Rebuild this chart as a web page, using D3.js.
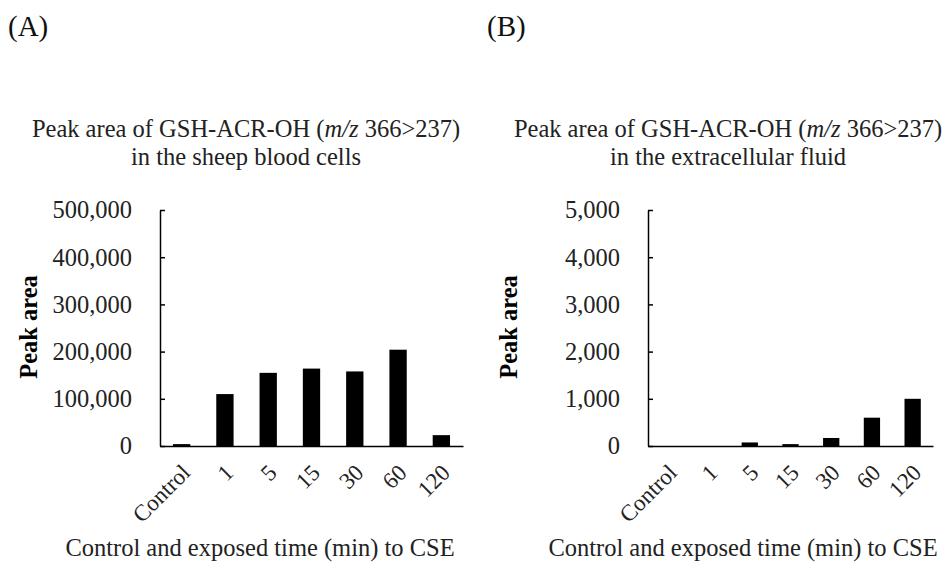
<!DOCTYPE html>
<html>
<head>
<meta charset="utf-8">
<script src="https://cdn.jsdelivr.net/npm/d3@7"></script>
<style>
  html, body { margin: 0; padding: 0; background: #fff; }
  svg { display: block; font-family: "Liberation Serif", "Times New Roman", serif; }
</style>
</head>
<body>
<svg id="chart" width="947" height="577"></svg>
<script>
// ---- data ----
const categories = ["Control", "1", "5", "15", "30", "60", "120"];
const valuesA = [4000, 110000, 155000, 164000, 158000, 204000, 23000];
const valuesB = [0, 0, 75, 40, 170, 600, 1000];
const ticksA = [0, 100000, 200000, 300000, 400000, 500000];
const ticksB = [0, 1000, 2000, 3000, 4000, 5000];
const panelLabels = ["(A)", "(B)"];
const titlesA = ["in the sheep blood cells"];
const titlesB = ["in the extracellular fluid"];
const yAxisTitle = "Peak area";
const xAxisTitle = "Control and exposed time (min) to CSE";

const svg = d3.select("#chart");
const fmt = d3.format(",");

const panels = [
  { label: panelLabels[0], values: valuesA, ticks: ticksA, max: 500000, sub: titlesA[0],
    x0: 160, x1: 463, labelX: 8, ytitleX: 37, titleCx: 246, xtitleCx: 260 },
  { label: panelLabels[1], values: valuesB, ticks: ticksB, max: 5000, sub: titlesB[0],
    x0: 648, x1: 933, labelX: 487, ytitleX: 517, titleCx: 728, xtitleCx: 743 }
];

const yTop = 210, yBot = 446;

panels.forEach(p => {
  const x = d3.scaleBand().domain(categories).range([p.x0, p.x1]).paddingInner(0.6).paddingOuter(0.3);
  const y = d3.scaleLinear().domain([0, p.max]).range([yBot, yTop]);

  // panel label
  svg.append("text").attr("x", p.labelX).attr("y", 36)
    .attr("font-size", 29).attr("fill", "#111").text(p.label);

  // title
  const t = svg.append("text").attr("x", p.titleCx).attr("y", 137)
    .attr("text-anchor", "middle").attr("font-size", 24.5).attr("fill", "#222");
  t.append("tspan").text("Peak area of GSH-ACR-OH (");
  t.append("tspan").attr("font-style", "italic").text("m/z");
  t.append("tspan").text(" 366>237)");
  svg.append("text").attr("x", p.titleCx).attr("y", 165)
    .attr("text-anchor", "middle").attr("font-size", 24.5).attr("fill", "#222").text(p.sub);

  // bars
  svg.append("g").selectAll("rect").data(p.values).join("rect")
    .attr("x", (d, i) => x(categories[i]))
    .attr("width", x.bandwidth())
    .attr("y", d => y(d))
    .attr("height", d => yBot - y(d))
    .attr("fill", "#000");

  // y axis
  const ya = svg.append("g").attr("transform", `translate(${p.x0},0)`)
    .call(d3.axisLeft(y).tickValues(p.ticks).tickFormat(fmt).tickSizeInner(-5).tickSizeOuter(0).tickPadding(28));
  ya.select(".domain").attr("stroke", "#000").attr("stroke-width", 1.5);
  ya.selectAll(".tick line").attr("stroke", "#000").attr("stroke-width", 1.5);
  ya.selectAll(".tick text").attr("font-size", 24.5).attr("font-family", "Liberation Serif")
    .attr("fill", "#222");

  // x axis
  const xa = svg.append("g").attr("transform", `translate(0,${yBot})`)
    .call(d3.axisBottom(x).tickSize(0).tickPadding(0));
  xa.select(".domain").attr("stroke", "#000").attr("stroke-width", 1.5);
  xa.selectAll(".tick text")
    .attr("font-size", 23).attr("font-family", "Liberation Serif").attr("fill", "#222")
    .attr("text-anchor", "end")
    .attr("dy", 0)
    .attr("transform", "translate(10,28) rotate(-45)");

  // axis titles
  svg.append("text")
    .attr("transform", `translate(${p.ytitleX},327) rotate(-90)`)
    .attr("text-anchor", "middle").attr("font-weight", "bold").attr("font-size", 24.5)
    .text(yAxisTitle);
  svg.append("text").attr("x", p.xtitleCx).attr("y", 556)
    .attr("text-anchor", "middle").attr("font-size", 24.5).attr("fill", "#222").text(xAxisTitle);
});
</script>
</body>
</html>
